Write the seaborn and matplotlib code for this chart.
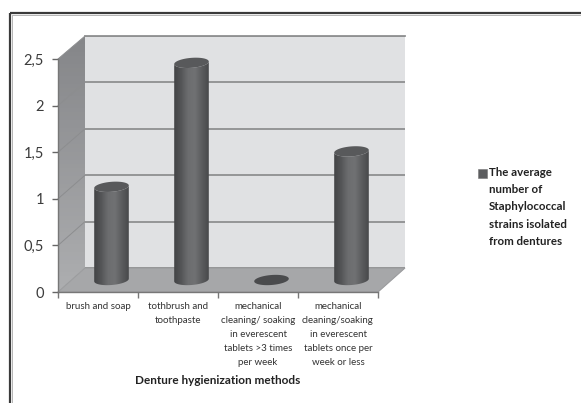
import numpy as np
import pandas as pd
import matplotlib
matplotlib.use("Agg")
import matplotlib.pyplot as plt
import seaborn as sns
from matplotlib.colors import LinearSegmentedColormap
from matplotlib.patches import Polygon, Rectangle

# Chart content
methods = [
    "brush and soap",
    "tothbrush and\ntoothpaste",
    "mechanical\ncleaning/ soaking\nin everescent\ntablets >3 times\nper week",
    "mechanical\ncleaning/soaking\nin everescent\ntablets once per\nweek or less",
]
strain_counts = [1.0, 2.33, 0.0, 1.38]
value_ticks = [0, 0.5, 1, 1.5, 2, 2.5]
value_tick_labels = ["0", "0,5", "1", "1,5", "2", "2,5"]
x_title = "Denture hygienization methods"
legend_label = "The average\nnumber of\nStaphylococcal\nstrains isolated\nfrom dentures"

W, H = 581, 403
sns.set_theme(style="white")
plt.rcParams["font.family"] = ["Lato", "DejaVu Sans"]
fig = plt.figure(figsize=(W / 100, H / 100), dpi=100, facecolor="white")


def place(left, top, right, bottom, **kw):
    """Add axes given pixel edges measured from the top-left corner."""
    return fig.add_axes([left / W, 1 - bottom / H, (right - left) / W, (bottom - top) / H], **kw)


# Pixel canvas for the frame, side wall and floor of the 3D box
canvas = place(0, 0, W, H, zorder=0)
canvas.set_xlim(0, W)
canvas.set_ylim(H, 0)
canvas.axis("off")

FL, FR, FT, FB = 58, 378, 59, 292      # front plane
BL, BR, BT, BB = 85, 405, 36, 268      # back wall
SLOT_PX = (FR - FL) / 4
UNIT_PX = (FB - FT) / 2.5

# Outer frame
canvas.plot([10, 10], [H, 13], color="#3a3a3a", lw=1.6, solid_capstyle="butt")
canvas.plot([10, W], [13, 13], color="#3a3a3a", lw=1.6, solid_capstyle="butt")
canvas.plot([12, 12], [H, 14.5], color="#b5b5b5", lw=0.7)
canvas.plot([12, W], [14.5, 14.5], color="#b5b5b5", lw=0.7)

# Side wall shaded from top to bottom
side_shade = LinearSegmentedColormap.from_list("side", ["#858689", "#adaeb0"])
side_img = canvas.imshow(np.linspace(0, 1, 64)[:, None], cmap=side_shade, aspect="auto",
                         extent=[FL, BL, FB, BT], zorder=1)
side_wall = Polygon([(FL, FT), (BL, BT), (BL, BB), (FL, FB)], closed=True,
                    transform=canvas.transData, facecolor="none", edgecolor="none")
canvas.add_patch(side_wall)
side_img.set_clip_path(side_wall)
canvas.set_xlim(0, W)
canvas.set_ylim(H, 0)

# Floor
canvas.add_patch(Polygon([(FL, FB), (BL, BB), (BR, BB), (FR, FB)], closed=True,
                         facecolor="#a6a7a9", edgecolor="#9a9b9d", lw=0.8, zorder=2))

# Back wall with horizontal gridlines
back = place(BL, BT, BR, BB, zorder=1)
back.set_facecolor("#e0e1e3")
back.set_ylim(0, 2.5)
back.set_xlim(0, 1)
back.set_xticks([])
back.set_yticks(value_ticks)
back.tick_params(left=False, labelleft=False)
back.grid(axis="y", color="#8f9091", lw=1.3)
back.set_axisbelow(True)
for name, spine in back.spines.items():
    spine.set_visible(name == "top")
    spine.set_color("#8f9091")
    spine.set_linewidth(1.3)

# Gridlines continuing across the side wall
for v in value_ticks[1:]:
    canvas.plot([FL, BL], [FB - v * UNIT_PX, BB - v * (BB - BT) / 2.5],
                color="#8c8d8f", lw=0.7, zorder=3)

# Front plane carries the ticks and labels
frame = pd.DataFrame({"method": methods, "strains": strain_counts})
front = place(FL, FT, FR, FB, zorder=2)
front.patch.set_alpha(0)
front.set_xlim(-0.5, 3.5)
front.set_ylim(0, 2.5)
front.set_yticks(value_ticks, value_tick_labels, fontsize=10.5, color="#3c3c3c")
front.set_xticks(np.arange(-0.5, 4, 1), [""] * 5)
front.set_xticks(range(4), methods, minor=True, fontsize=7, color="#333333", linespacing=1.7,
                 va="top", ha="center")
front.tick_params(axis="y", left=True, length=4, width=1, color="#666666", pad=6)
front.tick_params(axis="x", which="major", bottom=True, length=4, width=1, color="#777777")
front.tick_params(axis="x", which="minor", bottom=False, pad=3.5)
for name, spine in front.spines.items():
    spine.set_visible(name in ("left", "bottom"))
    spine.set_color("#777777")
    spine.set_linewidth(1)
front.set_xlabel(x_title, fontsize=8.5, fontweight="bold", color="#222222", labelpad=6)

# Cylinders sit midway through the box depth
mid_dx, mid_dy = 13.5, -12
bars = place(FL + mid_dx, FT + mid_dy, FR + mid_dx, FB + mid_dy, zorder=3)
bars.patch.set_alpha(0)
sns.barplot(data=frame, x="method", y="strains", ax=bars, color="#56575a",
            width=0.43, saturation=1, order=methods)
bars.set_xlim(-0.5, 3.5)
bars.set_ylim(0, 2.5)
bars.axis("off")

body_shade = LinearSegmentedColormap.from_list(
    "cylinder", ["#434446", "#545557", "#6c6d6f", "#707173", "#5c5d5f", "#48494b"])
A_PX, B_PX, TILT = 17.3, 5.0, 0.075


def ellipse(cx, cy, t):
    """Tilted ellipse outline in data units, sized in pixels."""
    dx = A_PX * np.cos(t)
    dy = B_PX * np.sin(t) + dx * TILT
    return np.column_stack([cx + dx / SLOT_PX, cy + dy / UNIT_PX])


circle = np.linspace(0, 2 * np.pi, 80)
lower = np.linspace(np.pi, 2 * np.pi, 40)
for bar in bars.patches:
    cx = bar.get_x() + bar.get_width() / 2
    value = bar.get_height()
    bar.set_visible(False)
    if value > 0:
        outline = np.vstack([ellipse(cx, 0, lower), ellipse(cx, value, lower[::-1])])
        clip = Polygon(outline, closed=True, transform=bars.transData, facecolor="none", edgecolor="none")
        bars.add_patch(clip)
        half = bar.get_width() / 2
        img = bars.imshow(np.linspace(0, 1, 64)[None, :], cmap=body_shade, aspect="auto",
                          extent=[cx - half, cx + half, -0.1, value + 0.1], zorder=2)
        img.set_clip_box(fig.bbox)
        img.set_clip_path(clip)
    cap = "#58595b" if value > 0 else "#4a4b4d"
    bars.add_patch(Polygon(ellipse(cx, value, circle), closed=True, facecolor=cap,
                           edgecolor="none", zorder=3, clip_on=False))
bars.set_xlim(-0.5, 3.5)
bars.set_ylim(0, 2.5)

# Legend entry
canvas.add_patch(Rectangle((478, 169), 8.5, 9, facecolor="#5c5d5f", edgecolor="#777777", lw=0.4, zorder=5))
canvas.text(489, 166.5, legend_label, fontsize=8.3, fontweight="bold", color="#222222",
            va="top", ha="left", linespacing=1.72, zorder=5)

fig.savefig("out.png", dpi=100, facecolor="white")
